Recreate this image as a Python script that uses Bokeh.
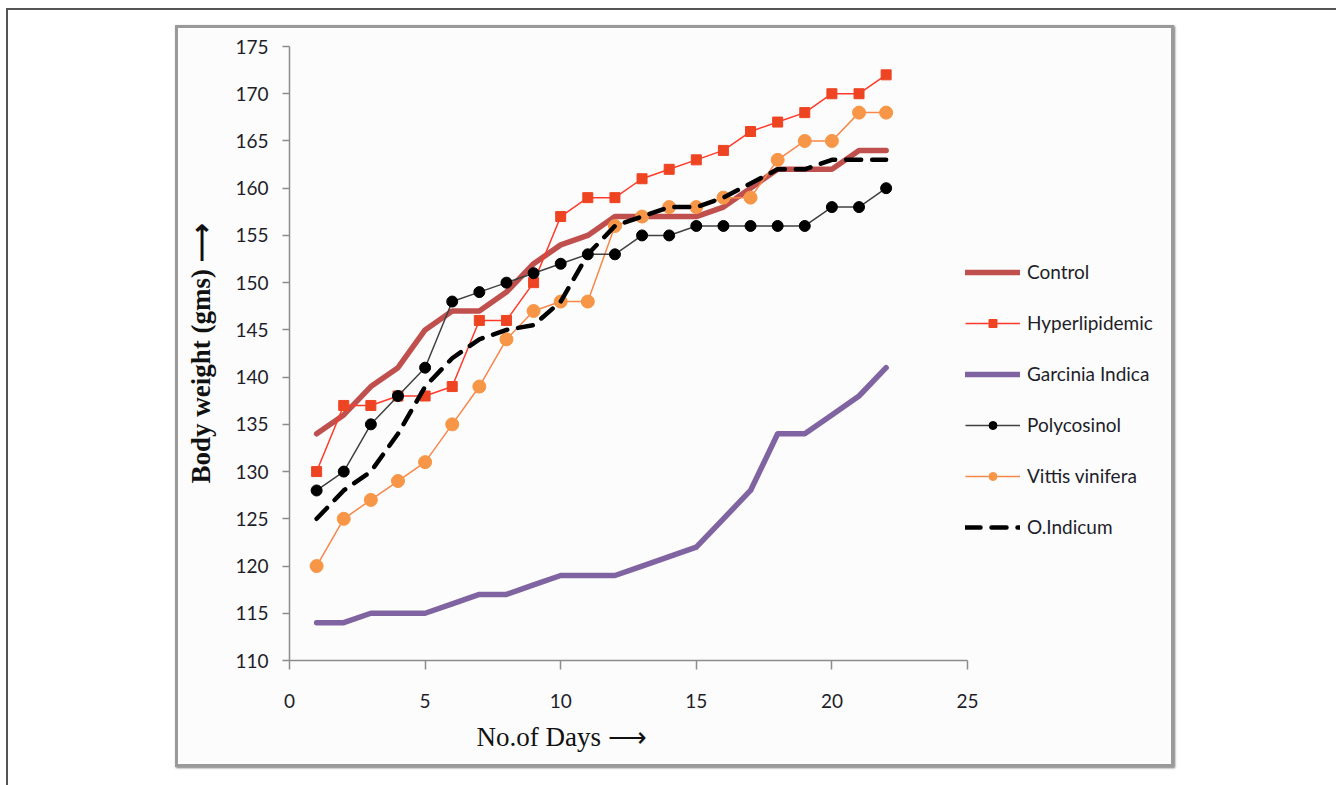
from bokeh.plotting import figure
from bokeh.layouts import column
from bokeh.models import Legend, LegendItem, FixedTicker, Range1d, Title
from bokeh.embed import file_html
from bokeh.resources import INLINE

# ---------------- data ----------------
days = list(range(1, 23))
control = [134, 136, 139, 141, 145, 147, 147, 149, 152, 154, 155, 157, 157, 157, 157, 158, 160, 162, 162, 162, 164, 164]
hyperlipidemic = [130, 137, 137, 138, 138, 139, 146, 146, 150, 157, 159, 159, 161, 162, 163, 164, 166, 167, 168, 170, 170, 172]
garcinia = [114, 114, 115, 115, 115, 116, 117, 117, 118, 119, 119, 119, 120, 121, 122, 125, 128, 134, 134, 136, 138, 141]
polycosinol = [128, 130, 135, 138, 141, 148, 149, 150, 151, 152, 153, 153, 155, 155, 156, 156, 156, 156, 156, 158, 158, 160]
vittis = [120, 125, 127, 129, 131, 135, 139, 144, 147, 148, 148, 156, 157, 158, 158, 159, 159, 163, 165, 165, 168, 168]
oindicum = [125, 128, 130, 134, 139, 142, 144, 145, 145.5, 148, 153, 156, 157, 158, 158, 159, 160.5, 162, 162, 163, 163, 163]

x_ticks = [0, 5, 10, 15, 20, 25]
y_ticks = [110, 115, 120, 125, 130, 135, 140, 145, 150, 155, 160, 165, 170, 175]

# ---------------- figure (the grey chart box) ----------------
BX0, BY0, BX1, BY1 = 178, 28, 1177, 770       # inner edges of the grey box on the page
FL, FR, FT, FB = 289, 967, 46, 660            # axis extent on the page
X_MAX = 25
x_end = X_MAX * (BX1 - FL) / (FR - FL)        # frame runs on to the box edge (legend area)

p = figure(width=BX1 - BX0, height=BY1 - BY0, output_backend="svg", toolbar_location=None,
           x_range=Range1d(0, x_end), y_range=Range1d(110, 175),
           min_border_left=FL - BX0, min_border_right=0,
           min_border_top=FT - BY0, min_border_bottom=BY1 - FB)
p.background_fill_color = "#fcfcfc"
p.border_fill_color = "#fcfcfc"
p.outline_line_color = None
p.grid.visible = False

for ax in (p.xaxis[0], p.yaxis[0]):
    ax.axis_line_color = "#8c8c8c"
    ax.axis_line_width = 1.5
    ax.major_tick_line_color = "#8c8c8c"
    ax.major_tick_line_width = 1.5
    ax.minor_tick_line_color = None
    ax.major_tick_in = 0
    ax.major_label_text_font = "Lato"
    ax.major_label_text_font_size = "19px"
    ax.major_label_text_color = "#1e1e2a"

p.xaxis[0].ticker = FixedTicker(ticks=x_ticks)
p.xaxis[0].bounds = (0, X_MAX)
p.yaxis[0].ticker = FixedTicker(ticks=y_ticks)
p.xaxis[0].major_tick_out = 9
p.yaxis[0].major_tick_out = 7
p.xaxis[0].major_label_standoff = 24
p.yaxis[0].major_label_standoff = 14

p.yaxis[0].axis_label = "Body weight (gms) \u27f6"
p.yaxis[0].axis_label_text_font = "Liberation Serif"
p.yaxis[0].axis_label_text_font_style = "bold"
p.yaxis[0].axis_label_text_font_size = "27px"
p.yaxis[0].axis_label_text_color = "#111111"
p.yaxis[0].axis_label_standoff = 16

xtitle = Title(text="No.of Days \u27f6", align="left", offset=476 - FL, standoff=19,
               text_font="Liberation Serif", text_font_style="normal", text_font_size="27px",
               text_color="#111111")
p.add_layout(xtitle, "below")

# ---------------- series ----------------
r_ctrl = p.line(days, control, line_color="#C0504D", line_width=5.5, line_join="round", line_cap="round")
r_garc = p.line(days, garcinia, line_color="#8064A2", line_width=5.5, line_join="round", line_cap="round")

r_vit_l = p.line(days, vittis, line_color="#F7874A", line_width=1.5)
r_vit_m = p.scatter(days, vittis, marker="circle", size=13, fill_color="#F79646", line_color="#F79646")

r_hyp_l = p.line(days, hyperlipidemic, line_color="#FF3A2A", line_width=1.5)
r_hyp_m = p.scatter(days, hyperlipidemic, marker="square", size=10, fill_color="#EE4422", line_color="#EE4422")

r_pol_l = p.line(days, polycosinol, line_color="#404040", line_width=1.5)
r_pol_m = p.scatter(days, polycosinol, marker="circle", size=11, fill_color="black", line_color="black")

r_oind = p.line(days, oindicum, line_color="black", line_width=4.5, line_dash="15 11", line_cap="round")

legend = Legend(items=[
    LegendItem(label="Control", renderers=[r_ctrl]),
    LegendItem(label="Hyperlipidemic", renderers=[r_hyp_l, r_hyp_m]),
    LegendItem(label="Garcinia Indica", renderers=[r_garc]),
    LegendItem(label="Polycosinol", renderers=[r_pol_l, r_pol_m]),
    LegendItem(label="Vittis vinifera", renderers=[r_vit_l, r_vit_m]),
    LegendItem(label="O.Indicum", renderers=[r_oind]),
], location=(965 - FL, 122))
legend.border_line_alpha = 0
legend.background_fill_alpha = 0
legend.padding = 0
legend.margin = 0
legend.glyph_width = 55
legend.glyph_height = 20
legend.label_height = 20
legend.spacing = 28
legend.label_standoff = 7
legend.label_text_font = "Lato"
legend.label_text_font_size = "19px"
legend.label_text_color = "#1e1e2a"
p.add_layout(legend)

# grey box border, and the page frame lines around everything
p.styles = {"border": "3px solid #9a9a9a", "box-shadow": "1px 1px 2px #777777"}
p.margin = (15, 0, 0, 167)
root = column(p, width=1330, height=777, sizing_mode="fixed",
              styles={"border-top": "2px solid #555555", "border-left": "2px solid #555555",
                      "background": "white"})
root.margin = (8, 0, 0, 6)

open("out.html", "w").write(file_html(root, INLINE))
